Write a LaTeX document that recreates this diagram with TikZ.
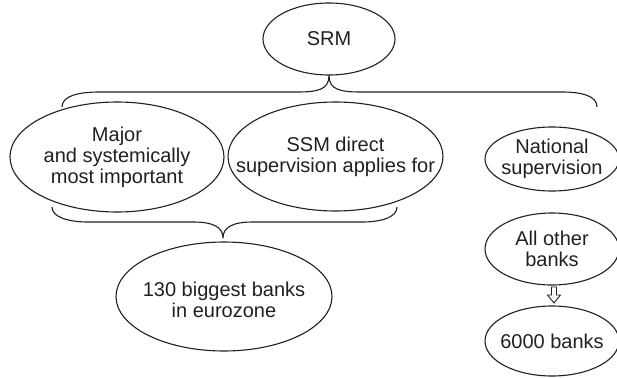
\documentclass[tikz,border=0pt]{standalone}
\usepackage{fontspec}
\setmainfont{Liberation Sans}
\usetikzlibrary{shapes.geometric}
\definecolor{ink}{HTML}{231F20}
\begin{document}
\begin{tikzpicture}[x=1pt,y=-1pt,
  oval/.style={ellipse, draw=ink, line width=1.1pt, inner sep=0pt},
  txt/.style={text=ink, align=center, inner sep=0pt, font=\fontsize{20}{21}\selectfont},
  bracket/.style={draw=ink, line width=1.1pt, line join=round},
  hollowarrow/.style={draw=ink, line width=0.9pt, line join=miter}]
\useasboundingbox (0,0) rectangle (617,377);

% top level
\node[oval, minimum width=132pt, minimum height=72pt,
      label={[txt]center:SRM}] (srm) at (329,39) {};

% ECB branch
\node[oval, minimum width=214pt, minimum height=110pt,
      label={[txt]center:{Major\\and systemically\\most important}}] (major) at (117,157) {};
\node[oval, minimum width=215pt, minimum height=109pt,
      label={[txt]center:{SSM direct\\supervision applies for}}] (ssm) at (335.5,156.5) {};
\node[oval, minimum width=216pt, minimum height=109pt,
      label={[txt,yshift=-3pt]center:{130 biggest banks\\in eurozone}}] (big) at (224,296.5) {};

% national branch
\node[oval, minimum width=134pt, minimum height=64pt,
      label={[txt]center:{National\\supervision}}] (nat) at (552,159) {};
\node[oval, minimum width=134pt, minimum height=72pt,
      label={[txt]center:{All other\\banks}}] (other) at (552,249) {};
\node[oval, minimum width=134pt, minimum height=70pt,
      label={[txt]center:{6000 banks}}] (six) at (552,341) {};

% upper brace under SRM
\coordinate (tl) at (62,107);
\coordinate (tt) at (srm.south);
\coordinate (tr) at (597,107);
\draw[bracket] (tl) .. controls (62,96) and (78,92) .. (100,92) -- (297,92)
  .. controls (317,92) and (329,90) .. (tt)
  .. controls (329,90) and (341,92) .. (361,92) -- (562,92)
  .. controls (582,92) and (597,96) .. (tr);

% lower brace above the 130 banks
\coordinate (bl) at (52,207);
\coordinate (bt) at (223,238);
\coordinate (br) at (397,207);
\draw[bracket] (bl) .. controls (52,217) and (68,222) .. (88,222) -- (193,222)
  .. controls (213,222) and (223,227) .. (bt)
  .. controls (223,227) and (233,222) .. (253,222) -- (362,222)
  .. controls (382,222) and (397,217) .. (br);

% hollow arrow from "All other banks" down to "6000 banks"
\coordinate (arr) at (554,287);
\draw[hollowarrow] (arr) ++(-2.5,0) -- ++(0,8) -- ++(-4,0) -- ++(6.5,8)
  -- ++(6.5,-8) -- ++(-4,0) -- ++(0,-8) -- cycle;
\end{tikzpicture}
\end{document}
